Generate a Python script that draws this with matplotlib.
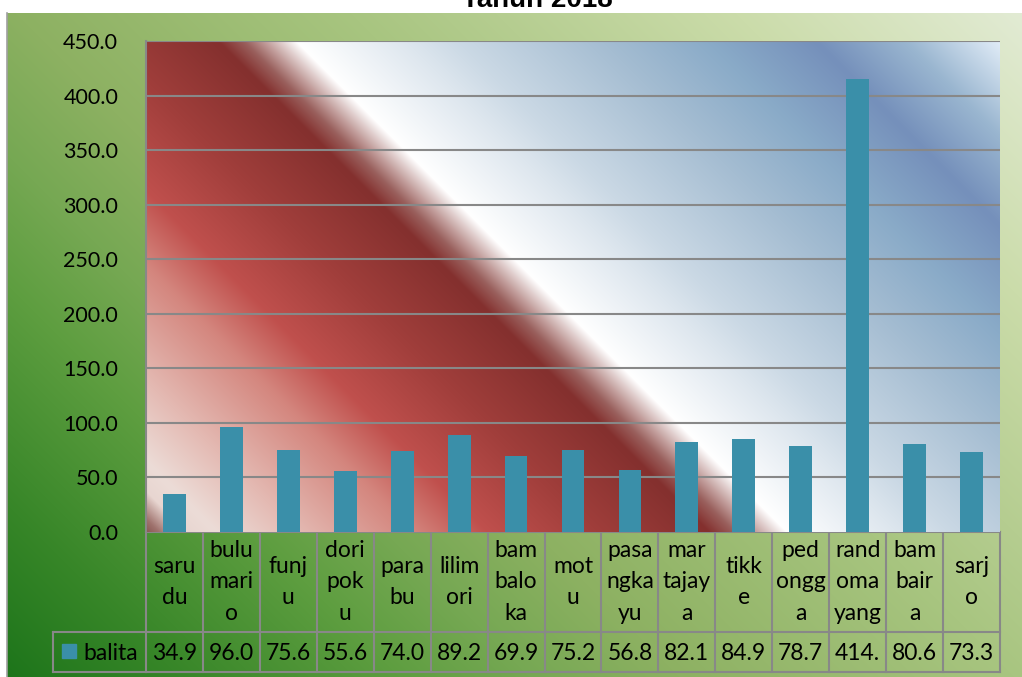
import numpy as np
import matplotlib
matplotlib.use('Agg')
import matplotlib.pyplot as plt
from matplotlib.colors import to_rgb
from matplotlib.patches import Rectangle
from matplotlib.transforms import blended_transform_factory

# desa / kelurahan (wrapped the way the table cells show them)
categories = ['saru\ndu', 'bulu\nmari\no', 'funj\nu', 'dori\npok\nu', 'para\nbu',
              'lilim\nori', 'bam\nbalo\nka', 'mot\nu', 'pasa\nngka\nyu', 'mar\ntajay\na',
              'tikk\ne', 'ped\nongg\na', 'rand\noma\nyang', 'bam\nbair\na', 'sarj\no']
balita = [34.9, 96.0, 75.6, 55.6, 74.0, 89.2, 69.9, 75.2, 56.8, 82.1,
          84.9, 78.7, 414.9, 80.6, 73.3]
series_name = 'balita'
yticks = [0, 50, 100, 150, 200, 250, 300, 350, 400, 450]
title = 'Tahun 2018'

W, H = 1022, 677
FONT = ['Lato', 'DejaVu Sans']
BAR = '#3a8fa9'
LINE = '#888888'


def gradient(s, stops):
    pos = [p for p, _ in stops]
    cols = np.array([to_rgb(c) for _, c in stops])
    return np.stack([np.interp(s, pos, cols[:, k]) for k in range(3)], axis=-1)


fig = plt.figure(figsize=(W / 100, H / 100), dpi=100)
fig.patch.set_facecolor('white')

# full-figure axes in pixel units for the chart background and the table
bg = fig.add_axes([0, 0, 1, 1])
bg.set_xlim(0, W)
bg.set_ylim(H, 0)
bg.axis('off')

# green chart area, diagonal fill
cx0, cy0 = 7, 13
yy, xx = np.mgrid[cy0:H, cx0:W]
s2 = xx + (H - yy)
green = gradient(s2, [(0, '#1c741a'), (180, '#378628'), (400, '#5e9e40'),
                      (530, '#76a853'), (680, '#8db162'), (1015, '#a8c580'),
                      (1160, '#b5cd90'), (1400, '#cbdcaa'), (1686, '#e2ebd4')])
bg.imshow(green, extent=(cx0, W, H, cy0), aspect='auto', zorder=0)
bg.plot([cx0, cx0], [cy0, H], color='#a0a0a0', lw=1.2, zorder=1)

bg.text(537, 7, title, ha='center', va='baseline', fontsize=20,
        fontweight='bold', family=['Liberation Sans', 'DejaVu Sans'])

# plot area
px0, px1, py0, py1 = 146, 1000, 41, 532
ax = fig.add_axes([px0 / W, (H - py1) / H, (px1 - px0) / W, (py1 - py0) / H])
pw, ph = px1 - px0, py1 - py0
gy, gx = np.mgrid[0:ph, 0:pw]
s = gx + (ph - 1 - gy)
fill = gradient(s, [(0, '#8a5a55'), (12, '#9e716c'), (40, '#e8d6d1'), (70, '#ecdcd7'),
                    (150, '#e4bab3'), (266, '#d4867e'), (340, '#c0504d'),
                    (450, '#a03e3b'), (562, '#84302e'), (588, '#9a605d'),
                    (612, '#c9a9a7'), (640, '#ffffff'), (750, '#dde6ee'),
                    (800, '#cbd9e5'), (945, '#a5bdd2'), (1050, '#8aabc8'),
                    (1160, '#7590bb'), (1250, '#9ab6d0'), (1345, '#e2edf8')])
n = len(categories)
x = np.arange(n)
ax.imshow(fill, extent=(-0.5, n - 0.5, 0, 450), aspect='auto', zorder=0)
ax.bar(x, balita, width=0.4, color=BAR, zorder=2)
ax.set_xlim(-0.5, n - 0.5)
ax.set_ylim(0, 450)
ax.set_yticks(yticks)
ax.set_yticklabels([f'{v:.1f}' for v in yticks], fontsize=15.5, family=FONT)
ax.set_xticks([])
ax.tick_params(axis='y', length=0, pad=20)
for t in yticks[1:]:
    ax.axhline(t, color=LINE, lw=1.5, zorder=1)
for side in ['top', 'right', 'bottom']:
    ax.spines[side].set_visible(False)
ax.spines['left'].set_color(LINE)
ax.spines['left'].set_linewidth(1.5)

# data table under the plot
tr = blended_transform_factory(ax.transData, bg.transData)
r0, r1, r2 = 532, 632, 672
edges = np.arange(n + 1) - 0.5
for e in edges:
    bg.plot([e, e], [r0, r2], color=LINE, lw=1.5, transform=tr, zorder=3)
for r in (r0, r1, r2):
    bg.plot([-0.5, n - 0.5], [r, r], color=LINE, lw=1.5, transform=tr, zorder=3)
lx = 53
bg.plot([lx, lx], [r1, r2], color=LINE, lw=1.5, zorder=3)
bg.plot([lx, px0], [r1, r1], color=LINE, lw=1.5, zorder=3)
bg.plot([lx, px0], [r2, r2], color=LINE, lw=1.5, zorder=3)

# cells only fit four characters, so 414.9 shows as "414."
shown = [f'{v:.1f}'[:4] for v in balita]
for i in range(n):
    bg.text(x[i], (r0 + r1) / 2, categories[i], ha='center', va='center',
            fontsize=16.5, family=FONT, linespacing=1.6, transform=tr, zorder=4)
    bg.text(x[i], (r1 + r2) / 2 + 1, shown[i], ha='center', va='center',
            fontsize=16.5, family=FONT, transform=tr, zorder=4)

bg.add_patch(Rectangle((62, 644), 14, 14, color=BAR, zorder=4))
bg.text(83, (r1 + r2) / 2 + 1, series_name, ha='left', va='center',
        fontsize=16.5, family=FONT, zorder=4)

fig.savefig('out.png', dpi=100)
